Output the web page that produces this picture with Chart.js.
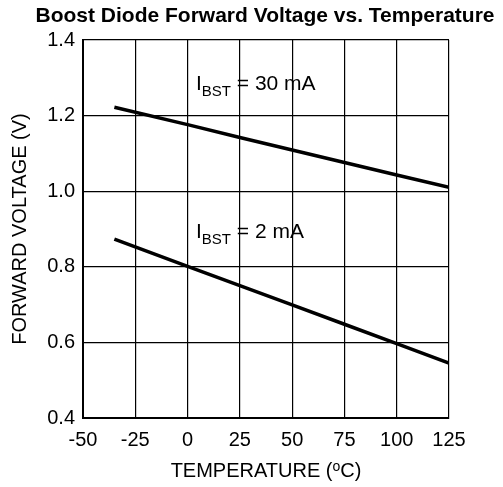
<!DOCTYPE html>
<html>
<head>
<meta charset="utf-8">
<script src="https://cdn.jsdelivr.net/npm/chart.js@4.4.1/dist/chart.umd.min.js"></script>
<style>
  html, body { margin: 0; padding: 0; background: #fff; }
  #wrap { width: 503px; height: 487px; position: relative; }
</style>
</head>
<body>
<div id="wrap"><canvas id="chart"></canvas></div>
<script>
  // Values
  const temps = [-35, 0, 25, 50, 75, 100, 125];
  const vf30mA = [1.222, 1.176, 1.142, 1.109, 1.076, 1.043, 1.01];
  const vf2mA = [0.873, 0.801, 0.75, 0.699, 0.648, 0.597, 0.545];
  const xTicks = [-50, -25, 0, 25, 50, 75, 100, 125];
  const yTicks = [0.4, 0.6, 0.8, 1.0, 1.2, 1.4];

  const FONT = "'Liberation Sans', Arial, sans-serif";

  // curve labels: main text, subscript, rest, anchored in data units
  const curveLabels = [
    { x: 4, y: 1.269, sub: "BST", rest: " = 30 mA" },
    { x: 4, y: 0.877, sub: "BST", rest: " = 2 mA" },
  ];

  const textPlugin = {
    id: "textPlugin",
    afterDraw(chart) {
      const { ctx, chartArea, scales } = chart;
      ctx.save();
      ctx.fillStyle = "#000";

      // title
      ctx.font = "bold 21px " + FONT;
      ctx.textAlign = "center";
      ctx.textBaseline = "middle";
      ctx.fillText("Boost Diode Forward Voltage vs. Temperature", 265, 16);

      // y axis title
      ctx.font = "20px " + FONT;
      ctx.save();
      ctx.translate(20, (chartArea.top + chartArea.bottom) / 2);
      ctx.rotate(-Math.PI / 2);
      ctx.fillText("FORWARD VOLTAGE (V)", 0, 0);
      ctx.restore();

      // x axis title with superscript o
      const a = "TEMPERATURE (", s = "o", b = "C)";
      ctx.font = "20px " + FONT;
      const wa = ctx.measureText(a).width;
      const wb = ctx.measureText(b).width;
      ctx.font = "14px " + FONT;
      const ws = ctx.measureText(s).width;
      let x = 266 - (wa + ws + wb) / 2;
      const yb = 477;
      ctx.textAlign = "left";
      ctx.textBaseline = "alphabetic";
      ctx.font = "20px " + FONT;
      ctx.fillText(a, x, yb);
      x += wa;
      ctx.font = "14px " + FONT;
      ctx.fillText(s, x, yb - 6);
      x += ws;
      ctx.font = "20px " + FONT;
      ctx.fillText(b, x, yb);

      // curve labels
      curveLabels.forEach((l) => {
        let px = scales.x.getPixelForValue(l.x);
        const py = scales.y.getPixelForValue(l.y);
        ctx.font = "21px " + FONT;
        ctx.fillText("I", px, py);
        px += ctx.measureText("I").width;
        ctx.font = "15px " + FONT;
        ctx.fillText(l.sub, px, py + 6);
        px += ctx.measureText(l.sub).width;
        ctx.font = "21px " + FONT;
        ctx.fillText(l.rest, px, py);
      });
      ctx.restore();
    },
  };

  new Chart(document.getElementById("chart"), {
    type: "line",
    data: {
      datasets: [
        {
          label: "IBST = 30 mA",
          data: temps.map((t, i) => ({ x: t, y: vf30mA[i] })),
          borderColor: "#000",
          borderWidth: 3.5,
          pointRadius: 0,
          tension: 0,
        },
        {
          label: "IBST = 2 mA",
          data: temps.map((t, i) => ({ x: t, y: vf2mA[i] })),
          borderColor: "#000",
          borderWidth: 3.5,
          pointRadius: 0,
          tension: 0,
        },
      ],
    },
    plugins: [textPlugin],
    options: {
      responsive: true,
      maintainAspectRatio: false,
      animation: false,
      layout: { padding: { top: 40, right: 54, bottom: 0, left: 0 } },
      plugins: {
        legend: { display: false },
        tooltip: { enabled: false },
      },
      scales: {
        x: {
          type: "linear",
          min: -50,
          max: 125,
          afterBuildTicks: (axis) => { axis.ticks = xTicks.map((v) => ({ value: v })); },
          afterFit: (axis) => { axis.height = 69; },
          ticks: { color: "#000", font: { family: FONT, size: 20 }, padding: 10, maxRotation: 0 },
          grid: { color: "#000", lineWidth: 1.2, drawTicks: false },
          border: { color: "#000", width: 2 },
        },
        y: {
          type: "linear",
          min: 0.4,
          max: 1.4,
          afterBuildTicks: (axis) => { axis.ticks = yTicks.map((v) => ({ value: v })); },
          afterFit: (axis) => { axis.width = 83; },
          ticks: {
            color: "#000",
            font: { family: FONT, size: 20 },
            padding: 8,
            callback: (v) => v.toFixed(1),
          },
          grid: { color: "#000", lineWidth: 1.2, drawTicks: false },
          border: { color: "#000", width: 2 },
        },
      },
    },
  });
</script>
</body>
</html>
